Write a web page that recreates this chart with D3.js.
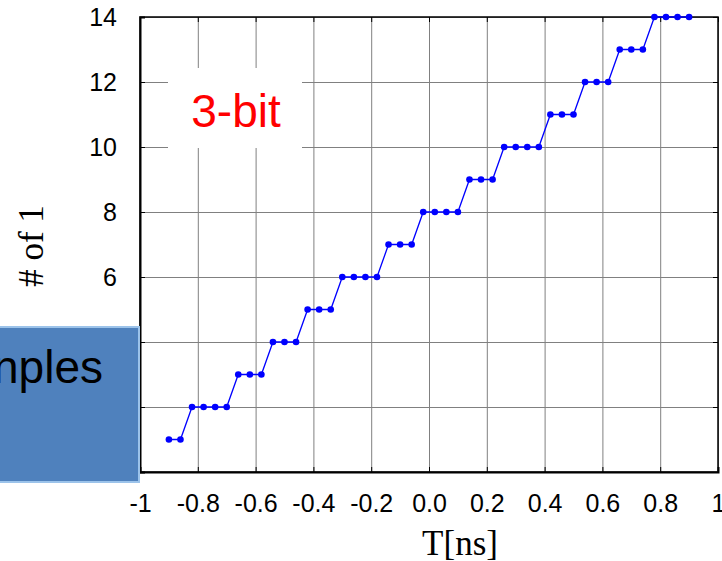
<!DOCTYPE html>
<html>
<head>
<meta charset="utf-8">
<script src="https://cdn.jsdelivr.net/npm/d3@7"></script>
<style>
  body { margin: 0; background: #fff; }
  svg { display: block; }
</style>
</head>
<body>
<div class="chart"></div>
<script>
// ============================================================================
// Data
// ============================================================================

// sample times (ns), one every 0.04 ns
var times = [
  -0.90, -0.86, -0.82, -0.78, -0.74, -0.70, -0.66, -0.62, -0.58, -0.54,
  -0.50, -0.46, -0.42, -0.38, -0.34, -0.30, -0.26, -0.22, -0.18, -0.14,
  -0.10, -0.06, -0.02, 0.02, 0.06, 0.10, 0.14, 0.18, 0.22, 0.26,
  0.30, 0.34, 0.38, 0.42, 0.46, 0.50, 0.54, 0.58, 0.62, 0.66,
  0.70, 0.74, 0.78, 0.82, 0.86, 0.90
];

// number of ones counted at each time
var ones = [
  1, 1, 2, 2, 2, 2, 3, 3, 3, 4,
  4, 4, 5, 5, 5, 6, 6, 6, 6, 7,
  7, 7, 8, 8, 8, 8, 9, 9, 9, 10,
  10, 10, 10, 11, 11, 11, 12, 12, 12, 13,
  13, 13, 14, 14, 14, 14
];

var xTicks = [-1, -0.8, -0.6, -0.4, -0.2, 0, 0.2, 0.4, 0.6, 0.8, 1];
var xTickLabels = ['-1', '-0.8', '-0.6', '-0.4', '-0.2', '0.0', '0.2', '0.4', '0.6', '0.8', '1'];
var yTicks = [0, 2, 4, 6, 8, 10, 12, 14];

// ============================================================================
// Create SVG
// ============================================================================

var svgWidth = 722;
var svgHeight = 561;

var margin = { top: 17, right: 4, bottom: 89, left: 140 };

var width = svgWidth - margin.left - margin.right;
var height = svgHeight - margin.top - margin.bottom;

var svg = d3.select('.chart')
  .append('svg')
  .attr('width', svgWidth)
  .attr('height', svgHeight);

var chartGroup = svg.append('g')
  .attr('transform', `translate(${margin.left}, ${margin.top})`);

var xScale = d3.scaleLinear().domain([-1, 1]).range([0, width]);
var yScale = d3.scaleLinear().domain([0, 14]).range([height, 0]);

// grid lines
chartGroup.append('g')
  .attr('transform', `translate(0, ${height})`)
  .call(d3.axisBottom(xScale).tickValues(xTicks).tickSize(-height).tickFormat(''))
  .call(g => g.select('.domain').remove())
  .selectAll('line')
  .attr('stroke', '#808080')
  .attr('stroke-width', 1);

chartGroup.append('g')
  .call(d3.axisLeft(yScale).tickValues(yTicks).tickSize(-width).tickFormat(''))
  .call(g => g.select('.domain').remove())
  .selectAll('line')
  .attr('stroke', '#808080')
  .attr('stroke-width', 1);

// small inward ticks on the top and right sides
chartGroup.append('g')
  .call(d3.axisTop(xScale).tickValues(xTicks).tickSize(-5).tickFormat(''))
  .call(g => g.select('.domain').remove())
  .selectAll('line').attr('stroke', '#000');

chartGroup.append('g')
  .attr('transform', `translate(${width}, 0)`)
  .call(d3.axisRight(yScale).tickValues(yTicks).tickSize(-5).tickFormat(''))
  .call(g => g.select('.domain').remove())
  .selectAll('line').attr('stroke', '#000');

// frame
chartGroup.append('rect')
  .attr('x', 0)
  .attr('y', 0)
  .attr('width', width)
  .attr('height', height)
  .attr('fill', 'none')
  .attr('stroke', '#000')
  .attr('stroke-width', 1.5);

// x axis
var xAxis = chartGroup.append('g')
  .attr('transform', `translate(0, ${height})`)
  .call(d3.axisBottom(xScale)
    .tickValues(xTicks)
    .tickSize(-5)
    .tickPadding(22)
    .tickFormat((d, i) => xTickLabels[i]));
xAxis.select('.domain').attr('stroke-width', 2);
xAxis.selectAll('text')
  .attr('font-family', 'Arial, "Liberation Sans", sans-serif')
  .attr('font-size', 25)
  .attr('fill', '#000');

// y axis
var yAxis = chartGroup.append('g')
  .call(d3.axisLeft(yScale)
    .tickValues(yTicks)
    .tickSize(-5)
    .tickPadding(23));
yAxis.select('.domain').attr('stroke-width', 2);
yAxis.selectAll('text')
  .attr('font-family', 'Arial, "Liberation Sans", sans-serif')
  .attr('font-size', 25)
  .attr('fill', '#000');

// "3-bit" label on a white patch
chartGroup.append('rect')
  .attr('x', 168 - margin.left)
  .attr('y', 68 - margin.top)
  .attr('width', 134)
  .attr('height', 80)
  .attr('fill', '#fff');

chartGroup.append('text')
  .attr('x', 236 - margin.left)
  .attr('y', 127 - margin.top)
  .attr('text-anchor', 'middle')
  .attr('font-family', 'Arial, "Liberation Sans", sans-serif')
  .attr('font-size', 46)
  .attr('fill', '#ff0000')
  .text('3-bit');

// step line and markers
var points = times.map((t, i) => ({ t: t, n: ones[i] }));

var line = d3.line()
  .x(d => xScale(d.t))
  .y(d => yScale(d.n));

chartGroup.append('path')
  .datum(points)
  .attr('d', line)
  .attr('fill', 'none')
  .attr('stroke', '#0000ff')
  .attr('stroke-width', 1.3);

chartGroup.selectAll('circle')
  .data(points)
  .enter()
    .append('circle')
    .attr('cx', d => xScale(d.t))
    .attr('cy', d => yScale(d.n))
    .attr('r', 3.3)
    .attr('fill', '#0000ff');

// axis titles
svg.append('text')
  .attr('x', 460)
  .attr('y', 555)
  .attr('text-anchor', 'middle')
  .attr('font-family', '"Times New Roman", "Liberation Serif", serif')
  .attr('font-size', 35)
  .attr('fill', '#000')
  .text('T[ns]');

svg.append('text')
  .attr('transform', 'translate(43, 246) rotate(-90)')
  .attr('text-anchor', 'middle')
  .attr('font-family', '"Times New Roman", "Liberation Serif", serif')
  .attr('font-size', 35)
  .attr('fill', '#000')
  .text('# of 1');

// overlapping slide box (cut off at the left edge)
svg.append('rect')
  .attr('x', -20)
  .attr('y', 327)
  .attr('width', 159)
  .attr('height', 155)
  .attr('fill', '#4f81bd')
  .attr('stroke', '#9cc3ea')
  .attr('stroke-width', 2);

svg.append('text')
  .attr('x', 103)
  .attr('y', 383)
  .attr('text-anchor', 'end')
  .attr('font-family', 'Arial, "Liberation Sans", sans-serif')
  .attr('font-size', 46)
  .attr('fill', '#000')
  .text('nples');
</script>
</body>
</html>
